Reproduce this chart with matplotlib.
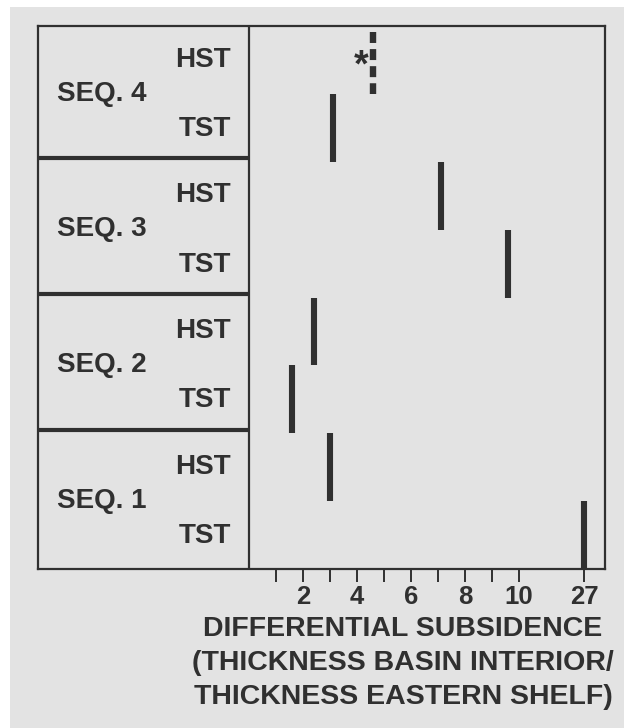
import numpy as np
import matplotlib
matplotlib.use("Agg")
import matplotlib.pyplot as plt
from matplotlib.patches import Rectangle
import matplotlib.transforms as mtransforms

# ---- data ----
sequences = ["SEQ. 1", "SEQ. 2", "SEQ. 3", "SEQ. 4"]
tracts = ["TST", "HST"]
# differential subsidence per (sequence, tract), bottom to top
tst_values = [27.0, 1.6, 9.6, 3.1]
hst_values = [3.0, 2.4, 7.1, 4.6]
hst_uncertain = [False, False, False, True]
tick_values = [1, 2, 3, 4, 5, 6, 7, 8, 9, 10, 27]
tick_labels = ["", "2", "", "4", "", "6", "", "8", "", "10", "27"]
xlabel = "DIFFERENTIAL SUBSIDENCE\n(THICKNESS BASIN INTERIOR/\nTHICKNESS EASTERN SHELF)"

# ---- style ----
INK = "#303030"
BG = "#e3e3e3"
FONT = "Liberation Sans"
plt.rcParams["font.family"] = [FONT, "DejaVu Sans"]
plt.rcParams["lines.scale_dashes"] = False

# broken axis: linear up to 10, compressed above
BREAK, SPAN_ABOVE, COMPRESSED = 10.0, 17.0, 2.41
def fwd(v):
    v = np.asarray(v, dtype=float)
    return np.where(v <= BREAK, v, BREAK + (v - BREAK) * COMPRESSED / SPAN_ABOVE)
def inv(u):
    u = np.asarray(u, dtype=float)
    return np.where(u <= BREAK, u, BREAK + (u - BREAK) * SPAN_ABOVE / COMPRESSED)

fig = plt.figure(figsize=(6.24, 7.28), dpi=100, facecolor="white")
fig.patches.append(Rectangle((10 / 624, 0), 1, (728 - 7) / 728,
                             transform=fig.transFigure, facecolor=BG,
                             edgecolor="none", zorder=-10))

ax = fig.add_axes([38 / 624, (728 - 569) / 728, 567 / 624, 543 / 728])
ax.set_facecolor(BG)
ax.set_xscale("function", functions=(fwd, inv))
ax.set_xlim(-7.81, float(inv(13.19)))
ax.set_ylim(0, 8)

for s in ax.spines.values():
    s.set_linewidth(1.6)
    s.set_color(INK)

# divider between label panel and data panel
ax.axvline(0, color=INK, lw=1.6)
panel_frac = 211 / 567
for k in range(1, len(sequences)):
    ax.axhline(2 * k + 0.05, xmin=0, xmax=panel_frac, color=INK, lw=3.0,
               solid_capstyle="butt")

trans = mtransforms.blended_transform_factory(ax.transAxes, ax.transData)
fs = 20
for i, seq in enumerate(sequences):
    base = 2 * i
    ax.text(0.0330, base + 0.90, seq, transform=trans, ha="left",
            va="baseline", fontsize=fs, fontweight="bold", color=INK)
    ax.text(0.340, base + 1.40, "HST", transform=trans, ha="right",
            va="baseline", fontsize=fs, fontweight="bold", color=INK)
    ax.text(0.340, base + 0.38, "TST", transform=trans, ha="right",
            va="baseline", fontsize=fs, fontweight="bold", color=INK)

    # TST bar
    ax.plot([tst_values[i], tst_values[i]], [base, base + 1], color=INK,
            lw=4.4, solid_capstyle="butt")
    # HST bar
    if hst_uncertain[i]:
        ax.plot([hst_values[i], hst_values[i]], [base + 1.91, base + 1.0],
                color=INK, lw=4.6, linestyle=(0, (7.9, 4.4)),
                dash_capstyle="butt")
        ax.text(hst_values[i] - 0.46, base + 1.40, "*", ha="center",
                va="center", fontsize=27, fontweight="bold", color=INK)
    else:
        ax.plot([hst_values[i], hst_values[i]], [base + 1, base + 2],
                color=INK, lw=4.4, solid_capstyle="butt")

ax.set_yticks([])
ax.set_xticks(tick_values)
ax.set_xticklabels(tick_labels, fontsize=18.5, fontweight="bold", color=INK)
ax.xaxis.set_minor_locator(matplotlib.ticker.NullLocator())
ax.tick_params(axis="x", direction="out", length=9.3, width=1.4,
               color=INK, pad=2)

fig.text(403 / 624, (728 - 663) / 728, xlabel, ha="center", va="center",
         multialignment="center", fontsize=20.5, fontweight="bold",
         color=INK, linespacing=1.38)

fig.savefig("out.png", dpi=100, facecolor=fig.get_facecolor())
